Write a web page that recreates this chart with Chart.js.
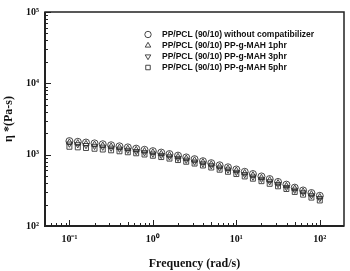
<!DOCTYPE html>
<html>
<head>
<meta charset="utf-8">
<script src="https://cdn.jsdelivr.net/npm/chart.js@4/dist/chart.umd.min.js"></script>
<style>
  html, body { margin: 0; padding: 0; background: #fff; }
  #wrap { width: 350px; height: 271px; }
</style>
</head>
<body>
<div id="wrap"><canvas id="myChart"></canvas></div>
<script>
// angular frequency (rad/s), 10 points per decade
var freq = [0.1, 0.126, 0.158, 0.2, 0.251, 0.316, 0.398, 0.501, 0.631, 0.794,
  1, 1.26, 1.58, 2, 2.51, 3.16, 3.98, 5.01, 6.31, 7.94,
  10, 12.6, 15.8, 20, 25.1, 31.6, 39.8, 50.1, 63.1, 79.4, 100];

// complex viscosity (Pa-s)
var noCompat = [1550, 1515, 1480, 1440, 1400, 1355, 1310, 1265, 1215, 1170,
  1120, 1070, 1020, 970, 915, 865, 810, 760, 710, 665,
  620, 575, 535, 495, 455, 415, 380, 345, 315, 290, 265];
var mah1 = [1490, 1455, 1420, 1385, 1345, 1305, 1260, 1215, 1170, 1125,
  1080, 1030, 985, 935, 885, 835, 785, 735, 685, 640,
  600, 555, 515, 475, 440, 400, 365, 335, 305, 280, 255];
var mah3 = [1420, 1390, 1355, 1320, 1285, 1245, 1205, 1160, 1115, 1075,
  1030, 985, 940, 895, 845, 795, 750, 705, 655, 615,
  570, 530, 490, 455, 420, 385, 350, 320, 295, 268, 245];
var mah5 = [1290, 1265, 1240, 1210, 1180, 1150, 1115, 1080, 1045, 1005,
  965, 925, 880, 840, 795, 750, 705, 660, 615, 575,
  535, 495, 460, 425, 390, 360, 330, 300, 275, 250, 228];

var seriesLabels = ['PP/PCL (90/10) without compatibilizer', 'PP/PCL (90/10) PP-g-MAH 1phr',
  'PP/PCL (90/10) PP-g-MAH 3phr', 'PP/PCL (90/10) PP-g-MAH 5phr'];

var xMajor = [0.1, 1, 10, 100];
var xLabels = ['10⁻¹', '10⁰', '10¹', '10²'];
var yMajor = [100, 1000, 10000, 100000];
var yLabels = ['10²', '10³', '10⁴', '10⁵'];

function pts(arr) {
  return arr.map(function (v, i) { return { x: freq[i], y: v }; });
}
function minorTicks(lo, hi) {
  var out = [];
  for (var d = lo; d < hi; d *= 10) {
    for (var k = 1; k < 10; k++) out.push(d * k);
  }
  out.push(hi);
  return out;
}

var serif = '"Liberation Serif", "Times New Roman", serif';
var sans = '"Liberation Sans", Arial, sans-serif';

var frame = {
  id: 'frame',
  afterDraw: function (chart) {
    var c = chart.ctx, a = chart.chartArea;
    var xs = chart.scales.x, ys = chart.scales.y;
    c.save();
    c.strokeStyle = '#222';
    // ticks pointing inward
    c.lineWidth = 1;
    minorTicks(0.01, 1000).forEach(function (v) {
      if (v < xs.min || v > xs.max) return;
      var px = Math.round(xs.getPixelForValue(v)) + 0.5;
      var len = xMajor.indexOf(v) >= 0 ? 6 : 3;
      if ([0.5, 5, 50].indexOf(v) >= 0) len = 4;
      c.beginPath(); c.moveTo(px, a.bottom); c.lineTo(px, a.bottom - len); c.stroke();
    });
    minorTicks(100, 100000).forEach(function (v) {
      var py = Math.round(ys.getPixelForValue(v)) + 0.5;
      var len = yMajor.indexOf(v) >= 0 ? 6 : 3;
      c.beginPath(); c.moveTo(a.left, py); c.lineTo(a.left + len, py); c.stroke();
    });
    // box
    c.lineWidth = 1.5;
    c.strokeRect(a.left, a.top, a.right - a.left, a.bottom - a.top);
    c.lineWidth = 2;
    c.beginPath();
    c.moveTo(a.left, a.top); c.lineTo(a.left, a.bottom); c.lineTo(a.right, a.bottom);
    c.stroke();
    // legend
    c.font = 'bold 8.5px ' + sans;
    c.textBaseline = 'middle';
    chart.data.datasets.forEach(function (ds, i) {
      var y = a.top + 22.5 + i * 11;
      c.fillStyle = 'rgba(0,0,0,0)';
      c.strokeStyle = '#333';
      c.lineWidth = 0.9;
      Chart.helpers.drawPoint(c, {
        pointStyle: ds.pointStyle, rotation: ds.pointRotation || 0,
        radius: 3.2, borderWidth: 0.9
      }, a.left + 103, y);
      c.fillStyle = '#111';
      c.fillText(ds.label, a.left + 117, y);
    });
    c.restore();
  }
};

var ctx = document.getElementById('myChart').getContext('2d');
var myChart = new Chart(ctx, {
  type: 'scatter',
  data: {
    datasets: [
      { label: seriesLabels[0], data: pts(noCompat), pointStyle: 'circle' },
      { label: seriesLabels[1], data: pts(mah1), pointStyle: 'triangle' },
      { label: seriesLabels[2], data: pts(mah3), pointStyle: 'triangle', pointRotation: 180 },
      { label: seriesLabels[3], data: pts(mah5), pointStyle: 'rect' }
    ].map(function (d) {
      d.backgroundColor = 'transparent';
      d.borderColor = '#333';
      d.pointBorderWidth = 0.9;
      d.pointRadius = 3.5;
      return d;
    })
  },
  options: {
    responsive: true,
    maintainAspectRatio: false,
    animation: false,
    events: [],
    layout: { padding: { top: 11, right: 6, left: 2, bottom: 0 } },
    plugins: { legend: { display: false }, tooltip: { enabled: false } },
    scales: {
      x: {
        type: 'logarithmic',
        min: 0.051,
        max: 195,
        afterBuildTicks: function (s) { s.ticks = xMajor.map(function (v) { return { value: v }; }); },
        afterFit: function (s) { s.height = 45; },
        ticks: {
          autoSkip: false,
          maxRotation: 0,
          padding: 7,
          color: '#111',
          font: { family: serif, size: 10, weight: 'bold' },
          callback: function (v) { var i = xMajor.indexOf(v); return i >= 0 ? xLabels[i] : ''; }
        },
        grid: { display: false, drawTicks: false },
        border: { display: false },
        title: {
          display: true,
          text: 'Frequency (rad/s)',
          color: '#111',
          font: { family: serif, size: 12, weight: 'bold' },
          padding: { top: 6, bottom: 0 }
        }
      },
      y: {
        type: 'logarithmic',
        min: 100,
        max: 100000,
        afterBuildTicks: function (s) { s.ticks = yMajor.map(function (v) { return { value: v }; }); },
        afterFit: function (s) { s.width = 43; },
        ticks: {
          autoSkip: false,
          padding: 6,
          color: '#111',
          font: { family: serif, size: 10, weight: 'bold' },
          callback: function (v) { var i = yMajor.indexOf(v); return i >= 0 ? yLabels[i] : ''; }
        },
        grid: { display: false, drawTicks: false },
        border: { display: false },
        title: {
          display: true,
          text: 'η *(Pa-s)',
          color: '#111',
          font: { family: serif, size: 12, weight: 'bold' },
          padding: { top: 0, bottom: 2 }
        }
      }
    }
  },
  plugins: [frame]
});
</script>
</body>
</html>
